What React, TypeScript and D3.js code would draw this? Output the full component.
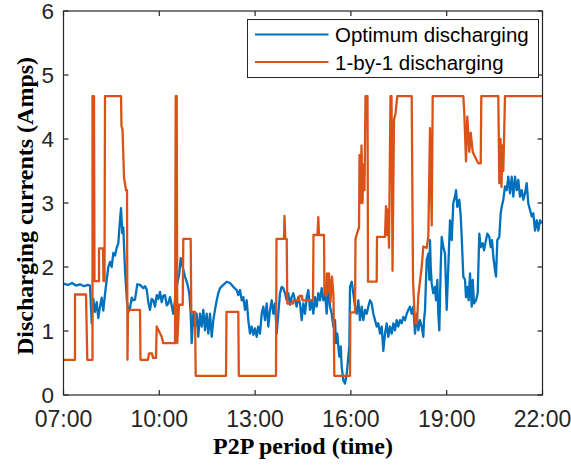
import React from "react";
import * as d3 from "d3";

// Time in decimal hours, current in Amps
const optimumTimes = [
  7.000, 7.141, 7.266, 7.391, 7.517, 7.642, 7.767, 7.830, 7.883, 7.933, 7.986, 8.040, 8.090, 8.143, 8.196, 8.246,
  8.300, 8.353, 8.403, 8.456, 8.509, 8.560, 8.613, 8.666, 8.716, 8.769, 8.801, 8.841, 8.873, 8.926, 8.989, 9.036,
  9.083, 9.136, 9.186, 9.239, 9.311, 9.396, 9.499, 9.552, 9.605, 9.656, 9.709, 9.762, 9.812, 9.865, 9.919, 9.969,
  10.022, 10.075, 10.125, 10.179, 10.232, 10.282,
  10.335, 10.438, 10.545, 10.626, 10.670, 10.733, 10.805, 10.877, 10.940, 10.983, 11.015, 11.065, 11.118, 11.171,
  11.221, 11.275, 11.328, 11.378, 11.431, 11.484, 11.535, 11.588, 11.641, 11.691, 11.744, 11.798, 11.848, 11.901,
  12.004, 12.111, 12.214, 12.317, 12.424, 12.474, 12.527, 12.581, 12.631, 12.684, 12.737, 12.787, 12.840, 12.894,
  12.944, 12.997, 13.050, 13.100, 13.154, 13.207, 13.257, 13.310, 13.363, 13.413, 13.467, 13.520, 13.570, 13.623,
  13.676, 13.727, 13.780, 13.833, 13.883, 13.936, 13.990, 14.040, 14.093, 14.146, 14.196, 14.250, 14.303, 14.353,
  14.406, 14.459, 14.510, 14.563, 14.616, 14.666, 14.719, 14.773, 14.823, 14.876, 14.929, 14.979, 15.032, 15.086,
  15.136, 15.189, 15.242, 15.292, 15.346, 15.399, 15.449, 15.502, 15.534, 15.574, 15.606, 15.637, 15.681, 15.712,
  15.762, 15.815, 15.869, 15.919, 15.950, 15.972, 16.025, 16.075, 16.129, 16.182, 16.232, 16.285, 16.338, 16.389,
  16.442, 16.495, 16.545, 16.598, 16.652, 16.702, 16.755, 16.808, 16.858, 16.911, 16.965, 17.015, 17.068, 17.121,
  17.171, 17.224, 17.278, 17.328, 17.381, 17.434, 17.484, 17.538, 17.591, 17.641, 17.694, 17.748, 17.798,
  17.851, 17.904, 17.954, 18.008, 18.061, 18.111, 18.164, 18.217, 18.268, 18.289, 18.321, 18.352, 18.374, 18.424,
  18.455, 18.477, 18.500, 18.531, 18.581, 18.634, 18.665, 18.706, 18.737, 18.769, 18.812, 18.844, 18.894, 18.947,
  19.000, 19.050, 19.104, 19.157, 19.207, 19.260, 19.292, 19.332, 19.395, 19.439, 19.470, 19.520, 19.573, 19.605,
  19.645, 19.689, 19.730, 19.783, 19.815, 19.855, 19.918, 19.971, 20.021, 20.065, 20.128, 20.168, 20.231, 20.272,
  20.334, 20.378, 20.419, 20.460, 20.513, 20.544, 20.585, 20.647, 20.691, 20.722, 20.773, 20.826, 20.879, 20.929,
  20.982, 21.036, 21.086, 21.139, 21.192, 21.242, 21.296, 21.349, 21.399, 21.452, 21.505, 21.556, 21.609, 21.662,
  21.712, 21.765, 21.819, 21.869, 21.922, 21.975,
];
const optimumValues = [
  1.74, 1.72, 1.75, 1.71, 1.73, 1.70, 1.72, 1.71, 1.12, 1.50, 1.30, 1.45, 1.20, 1.38, 1.52, 1.32,
  1.58, 1.80, 2.00, 2.08, 2.00, 2.22, 2.18, 2.30, 2.37, 2.73, 2.92, 2.53, 2.62, 1.95, 1.45, 1.30,
  1.36, 1.52, 1.48, 1.49, 1.73, 1.72, 1.67, 1.70, 1.65, 1.45, 1.33, 1.50, 1.48, 1.38, 1.56, 1.50,
  1.61, 1.45, 1.55, 1.56, 1.40, 1.43,
  1.53, 1.27, 1.69, 1.90, 2.14, 2.00, 1.85, 1.74, 1.59, 1.27, 0.81, 1.27, 1.07, 1.27,
  0.91, 1.27, 1.07, 1.33, 1.01, 1.27, 0.96, 1.27, 0.91, 1.17, 1.33, 1.48, 1.59, 1.67,
  1.72, 1.77, 1.75, 1.69, 1.64, 1.56, 1.64, 1.48, 1.53, 1.33, 1.48, 1.17, 0.96, 1.07,
  0.94, 1.04, 0.91, 1.07, 0.96, 1.27, 1.38, 1.17, 1.43, 1.07, 1.33, 1.48, 1.27, 1.43,
  0.96, 1.27, 1.59, 1.69, 1.67, 1.59, 1.48, 1.59, 1.41, 1.53, 1.59, 1.48, 1.38, 1.53,
  1.43, 1.17, 1.43, 1.27, 1.53, 1.64, 1.33, 1.48, 1.27, 1.53, 1.38, 1.59, 1.48, 1.67,
  1.48, 1.59, 1.27, 1.69, 1.38, 1.27, 1.07, 1.17, 0.81, 0.96, 0.76, 0.60, 0.76, 0.44,
  0.23, 0.18, 0.33, 0.60, 0.76, 1.69, 1.77, 1.59, 1.38, 1.27, 1.48, 1.17, 1.38, 1.17,
  1.33, 1.27, 1.38, 1.48, 1.43, 1.27, 1.17, 1.07, 1.12, 0.96, 1.07, 0.69, 0.96, 1.12,
  0.91, 1.07, 0.96, 1.12, 1.01, 1.17, 1.07, 1.17, 1.12, 1.22, 1.17, 1.27, 1.33,
  1.38, 1.27, 1.38, 0.96, 1.27, 1.01, 1.17, 1.07, 0.91, 1.17, 1.33, 1.80, 2.11, 2.21,
  1.80, 2.42, 2.00, 1.74, 1.59, 1.69, 1.48, 1.80, 1.27, 1.01, 2.00, 2.47, 2.31, 2.21,
  1.33, 2.00, 2.73, 2.42, 3.00, 3.10, 3.20, 2.94, 3.05, 2.79, 2.47, 1.85, 1.80, 1.53,
  1.69, 1.48, 1.90, 1.38, 1.80, 1.43, 1.48, 1.59, 2.52, 2.31, 2.37, 2.26, 2.42, 2.52,
  2.47, 2.31, 2.42, 2.16, 1.95, 1.85, 2.42, 2.47, 2.84, 2.94, 3.05, 3.26, 3.20, 3.41,
  3.15, 3.41, 3.10, 3.41, 3.20, 3.36, 3.10, 3.20, 3.05, 3.15, 3.31, 2.99, 2.89, 2.79,
  2.84, 2.57, 2.73, 2.57, 2.73, 2.68,
];

const oneByOneTimes = [
  7.000, 7.360, 7.360, 7.705, 7.745, 7.908, 7.908, 7.955, 7.971, 8.112, 8.112, 8.237, 8.253, 8.284, 8.300, 8.801,
  8.816, 8.848, 8.895, 8.957, 8.989, 9.004, 9.020, 9.396, 9.411, 9.646, 9.678, 9.771, 9.803, 9.897, 9.919, 10.075,
  10.125, 10.492, 10.514, 10.545, 10.564, 10.617, 10.733, 10.752, 10.983, 11.002, 11.118, 11.140, 12.089, 12.105,
  12.474, 12.490, 13.655, 13.670, 13.905, 13.921, 13.946, 13.990, 14.008, 14.187, 14.203, 14.375, 14.391, 14.469,
  14.485, 14.813, 14.829, 14.954, 14.979, 15.001, 15.158, 15.173, 15.236, 15.252, 15.283, 15.314, 15.361, 15.408,
  15.455, 15.480, 15.972, 15.982, 16.129, 16.144, 16.238, 16.254, 16.270, 16.301, 16.332, 16.363, 16.395, 16.426,
  16.457, 16.520, 16.536, 16.808, 16.817, 17.068, 17.099, 17.131, 17.162, 17.193, 17.240, 17.272, 17.303, 17.350,
  17.397, 17.453, 17.904, 17.945, 18.008, 18.070, 18.111, 18.217, 18.268, 18.374, 18.424, 18.477, 18.531, 18.562,
  19.520, 19.551, 19.605, 19.645, 19.708, 19.752, 19.815, 19.887, 19.990, 20.065, 20.084, 20.616, 20.647, 20.685,
  20.716, 20.748, 20.773, 20.826, 22.000,
];
const oneByOneValues = [
  0.55, 0.55, 1.57, 1.57, 0.55, 0.55, 4.67, 4.67, 1.78, 1.78, 2.29, 2.29, 1.78, 1.78, 4.67, 4.67,
  4.20, 4.15, 3.40, 3.20, 3.20, 0.55, 1.33, 1.33, 0.55, 0.55, 0.65, 0.65, 0.58, 0.58, 1.07, 0.91,
  0.81, 0.81, 4.67, 4.67, 0.81, 1.41, 1.41, 2.44, 2.44, 1.30, 1.30, 0.30, 0.30, 1.30,
  1.30, 0.30, 0.30, 2.44, 2.44, 2.80, 2.44, 2.44, 1.43, 1.43, 1.48, 1.48, 1.55, 1.55,
  1.48, 1.48, 2.50, 2.50, 2.78, 2.50, 2.50, 1.56, 1.56, 1.90, 1.62, 1.90, 1.45, 1.85,
  1.55, 0.30, 0.30, 1.29, 1.29, 2.44, 2.60, 2.60, 3.75, 3.00, 3.90, 3.00, 3.60, 3.20,
  4.67, 4.67, 1.77, 1.77, 2.47, 2.47, 2.95, 2.50, 2.90, 2.30, 4.67, 4.67, 1.94, 4.30,
  4.40, 4.67, 4.67, 1.80, 1.12, 1.12, 1.55, 2.00, 2.32, 2.30, 2.47, 4.17, 2.65, 4.67,
  4.67, 4.40, 3.65, 4.35, 3.80, 4.10, 3.80, 3.72, 3.62, 3.62, 4.67, 4.67, 3.31, 4.00,
  3.25, 3.90, 3.50, 4.67, 4.67,
];

const xTicks = [7, 10, 13, 16, 19, 22];
const xTickLabels = ["07:00", "10:00", "13:00", "16:00", "19:00", "22:00"];
const yTicks = [0, 1, 2, 3, 4, 5, 6];
const seriesNames = ["Optimum discharging", "1-by-1 discharging"];
const seriesColors = ["#0072BD", "#D95319"];

const W = 571;
const H = 466;
const M = { left: 63.5, right: 542.5, top: 11, bottom: 395 };

export default function App() {
  const x = d3.scaleLinear().domain([7, 22]).range([M.left, M.right]);
  const y = d3.scaleLinear().domain([0, 6]).range([M.bottom, M.top]);
  const line = d3
    .line<[number, number]>()
    .x((d) => x(d[0]))
    .y((d) => y(d[1]));
  const opt = optimumTimes.map((t, i) => [t, optimumValues[i]] as [number, number]);
  const one = oneByOneTimes.map((t, i) => [t, oneByOneValues[i]] as [number, number]);
  const axisColor = "#262626";
  const tickLen = 5;
  const sans = "'Liberation Sans', Arial, sans-serif";
  const serif = "'Liberation Serif', 'Times New Roman', serif";

  const legX = 247.5;
  const legY = 19.5;
  const legW = 291;
  const legH = 58;

  return (
    <svg
      width={W}
      height={H}
      style={{ position: "absolute", left: 0, top: 0, background: "#fff" }}
    >
      <rect x={0} y={0} width={W} height={H} fill="#fff" />
      <defs>
        <clipPath id="plotclip">
          <rect x={M.left} y={M.top} width={M.right - M.left} height={M.bottom - M.top} />
        </clipPath>
      </defs>
      <g clipPath="url(#plotclip)">
        <path d={line(opt) || ""} fill="none" stroke={seriesColors[0]} strokeWidth={2.3} strokeLinejoin="round" />
        <path d={line(one) || ""} fill="none" stroke={seriesColors[1]} strokeWidth={2.3} strokeLinejoin="round" />
      </g>
      {/* axes box */}
      <rect
        x={M.left}
        y={M.top}
        width={M.right - M.left}
        height={M.bottom - M.top}
        fill="none"
        stroke={axisColor}
        strokeWidth={1.2}
      />
      {xTicks.map((t, i) => (
        <g key={"xt" + i}>
          <line x1={x(t)} x2={x(t)} y1={M.bottom} y2={M.bottom - tickLen} stroke={axisColor} strokeWidth={1.2} />
          <line x1={x(t)} x2={x(t)} y1={M.top} y2={M.top + tickLen} stroke={axisColor} strokeWidth={1.2} />
          <text
            x={x(t)}
            y={426.5}
            textAnchor="middle"
            fontFamily={sans}
            fontSize={23}
            fill={axisColor}
          >
            {xTickLabels[i]}
          </text>
        </g>
      ))}
      {yTicks.map((v, i) => (
        <g key={"yt" + i}>
          <line x1={M.left} x2={M.left + tickLen} y1={y(v)} y2={y(v)} stroke={axisColor} strokeWidth={1.2} />
          <line x1={M.right} x2={M.right - tickLen} y1={y(v)} y2={y(v)} stroke={axisColor} strokeWidth={1.2} />
          <text
            x={54}
            y={y(v)}
            dy="0.35em"
            textAnchor="end"
            fontFamily={sans}
            fontSize={22.5}
            fill={axisColor}
          >
            {v}
          </text>
        </g>
      ))}
      <text
        x={(M.left + M.right) / 2}
        y={454}
        textAnchor="middle"
        fontFamily={serif}
        fontWeight="bold"
        fontSize={24}
        fill="#000"
      >
        P2P period (time)
      </text>
      <text
        transform={`translate(33, 206) rotate(-90)`}
        textAnchor="middle"
        fontFamily={serif}
        fontWeight="bold"
        fontSize={24}
        fill="#000"
      >
        Discharging currents (Amps)
      </text>
      {/* legend */}
      <rect x={legX} y={legY} width={legW} height={legH} fill="#fff" stroke={axisColor} strokeWidth={1} />
      {seriesNames.map((name, i) => (
        <g key={"lg" + i}>
          <line
            x1={255}
            x2={328.5}
            y1={34.5 + i * 27.5}
            y2={34.5 + i * 27.5}
            stroke={seriesColors[i]}
            strokeWidth={2}
          />
          <text x={335} y={42 + i * 27.5} fontFamily={sans} fontSize={20.5} fill="#000">
            {name}
          </text>
        </g>
      ))}
    </svg>
  );
}
